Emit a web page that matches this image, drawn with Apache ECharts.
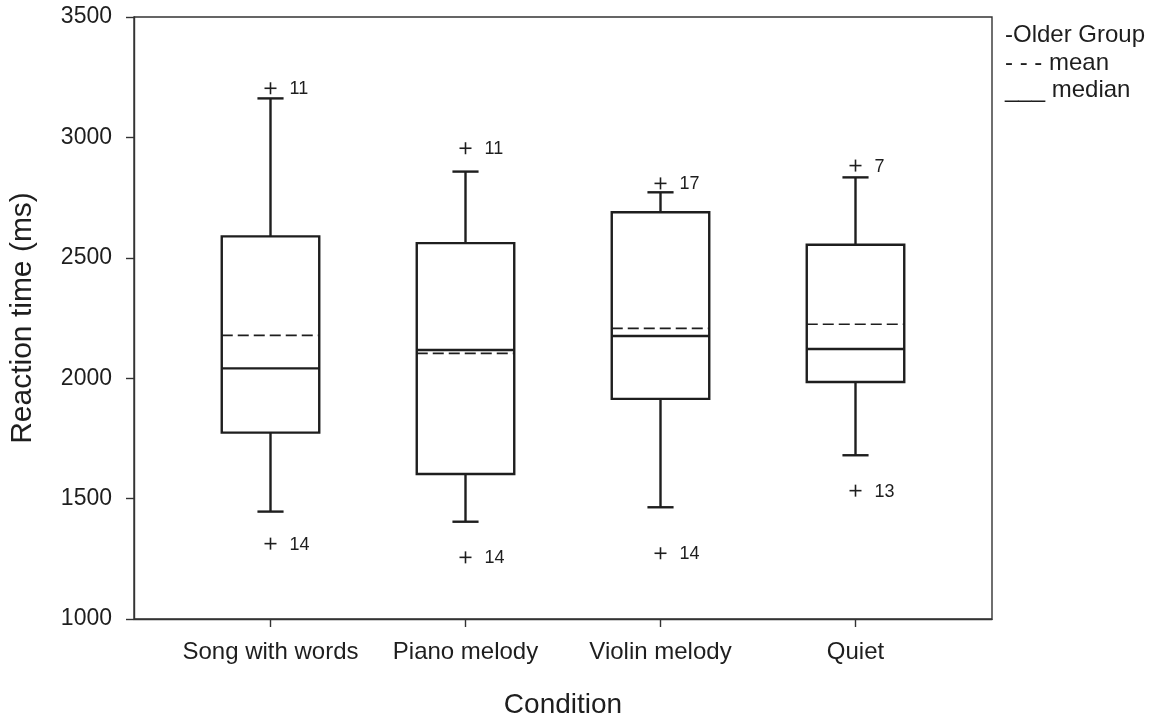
<!DOCTYPE html>
<html>
<head>
<meta charset="utf-8">
<title>Reaction time - Older Group</title>
<script src="https://cdn.jsdelivr.net/npm/echarts@6/dist/echarts.min.js"></script>
<style>
  html, body { margin: 0; background: #fff; }
  #chart { width: 1156px; height: 721px; }
</style>
</head>
<body>
<div id="chart"></div>
<script>
// values (ms)
const categories = ['Song with words', 'Piano melody', 'Violin melody', 'Quiet']
const whiskerLow = [1446, 1404, 1464, 1680]
const q1 = [1774, 1602, 1914, 1984]
const medians = [2041, 2117, 2175, 2121]
const q3 = [2589, 2561, 2689, 2554]
const whiskerHigh = [3162, 2858, 2772, 2834]
const means = [2178, 2103, 2207, 2224]

// outliers: category index, value, case label
const outlierCat = [0, 0, 1, 1, 2, 2, 3, 3]
const outlierValues = [3204, 1313, 2955, 1256, 2809, 1273, 2883, 1533]
const outlierLabels = ['11', '14', '11', '14', '17', '14', '7', '13']

const ink = '#1e1e1e'
const font = "'Liberation Sans', Arial, sans-serif"

const boxData = categories.map((c, i) => [i + 1, whiskerLow[i], q1[i], medians[i], q3[i], whiskerHigh[i], means[i]])
const outlierData = outlierCat.map((c, i) => [c + 1, outlierValues[i]])

function seg(x1, y1, x2, y2, extra) {
  return {
    type: 'line',
    shape: { x1, y1, x2, y2 },
    style: Object.assign({ stroke: ink, lineWidth: 2.4 }, extra)
  }
}

function renderBox(params, api) {
  const x = api.value(0)
  const low = api.coord([x, api.value(1)])
  const lo = api.coord([x, api.value(2)])
  const med = api.coord([x, api.value(3)])
  const hi = api.coord([x, api.value(4)])
  const high = api.coord([x, api.value(5)])
  const mean = api.coord([x, api.value(6)])
  const band = api.size([1, 0])[0]
  const hw = band * 0.25
  const cw = band * 0.067
  const cx = lo[0]
  return {
    type: 'group',
    children: [
      seg(cx, hi[1], cx, high[1]),
      seg(cx - cw, high[1], cx + cw, high[1]),
      seg(cx, lo[1], cx, low[1]),
      seg(cx - cw, low[1], cx + cw, low[1]),
      {
        type: 'rect',
        shape: { x: cx - hw, y: hi[1], width: hw * 2, height: lo[1] - hi[1] },
        style: { fill: 'none', stroke: ink, lineWidth: 2.4 }
      },
      seg(cx - hw, med[1], cx + hw, med[1]),
      seg(cx - hw, mean[1], cx + hw, mean[1], { lineWidth: 1.6, lineDash: [11, 5] })
    ]
  }
}

function renderOutlier(params, api) {
  const p = api.coord([api.value(0), api.value(1)])
  const s = 6
  return {
    type: 'group',
    children: [
      seg(p[0] - s, p[1], p[0] + s, p[1], { lineWidth: 1.6 }),
      seg(p[0], p[1] - s, p[0], p[1] + s, { lineWidth: 1.6 }),
      {
        type: 'text',
        style: {
          x: p[0] + 19,
          y: p[1] + 1,
          text: outlierLabels[params.dataIndex],
          fill: ink,
          fontSize: 18,
          fontFamily: font,
          align: 'left',
          verticalAlign: 'middle'
        }
      }
    ]
  }
}

const chart = echarts.init(document.getElementById('chart'))
chart.setOption({
  animation: false,
  backgroundColor: '#fff',
  grid: {
    left: 134,
    right: 164,
    top: 17,
    bottom: 102,
    outerBoundsMode: 'none',
    show: true,
    borderColor: '#333',
    borderWidth: 1.4
  },
  xAxis: {
    type: 'value',
    min: 0.3,
    max: 4.7,
    name: 'Condition',
    nameLocation: 'middle',
    nameGap: 72,
    nameTextStyle: { fontSize: 28, color: ink, fontFamily: font },
    splitLine: { show: false },
    axisLine: { lineStyle: { color: '#333', width: 1.4 } },
    axisTick: { customValues: [1, 2, 3, 4], length: 8, lineStyle: { color: '#333', width: 1.4 } },
    axisLabel: {
      customValues: [1, 2, 3, 4],
      formatter: v => categories[Math.round(v) - 1],
      fontSize: 24,
      color: ink,
      fontFamily: font,
      margin: 21
    }
  },
  yAxis: {
    type: 'value',
    min: 1000,
    max: 3500,
    interval: 500,
    name: 'Reaction time (ms)',
    nameLocation: 'middle',
    nameGap: 96,
    nameTextStyle: { fontSize: 30, color: ink, fontFamily: font },
    splitLine: { show: false },
    axisLine: { show: true, lineStyle: { color: '#333', width: 1.4 } },
    axisTick: { show: true, length: 8, lineStyle: { color: '#333', width: 1.4 } },
    axisLabel: { fontSize: 23, color: ink, fontFamily: font, margin: 22, formatter: v => String(v) }
  },
  graphic: [
    { type: 'text', x: 1005, y: 35, style: { text: '-Older Group', fontSize: 24, fontFamily: font, fill: ink, verticalAlign: 'middle' } },
    { type: 'text', x: 1005, y: 63, style: { text: '- - - mean', fontSize: 24, fontFamily: font, fill: ink, verticalAlign: 'middle' } },
    { type: 'text', x: 1005, y: 90, style: { text: '___ median', fontSize: 24, fontFamily: font, fill: ink, verticalAlign: 'middle' } }
  ],
  series: [
    {
      type: 'custom',
      name: 'box',
      renderItem: renderBox,
      data: boxData,
      encode: { x: 0, y: [1, 2, 3, 4, 5, 6] },
      silent: true
    },
    {
      type: 'custom',
      name: 'outliers',
      renderItem: renderOutlier,
      data: outlierData,
      encode: { x: 0, y: 1 },
      silent: true
    }
  ]
})
</script>
</body>
</html>
